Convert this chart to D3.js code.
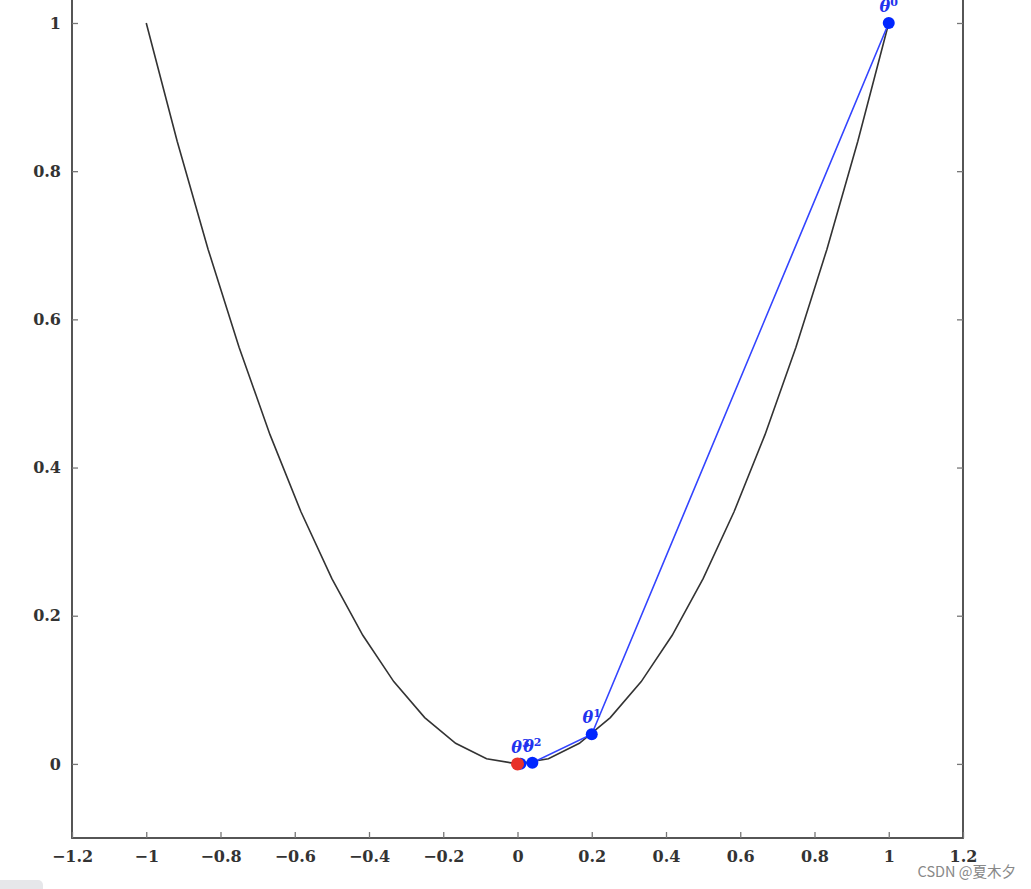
<!DOCTYPE html>
<html><head><meta charset="utf-8">
<script src="https://cdn.jsdelivr.net/npm/d3@7"></script>
<style>body{margin:0;background:#fff}svg{display:block}</style>
</head><body>
<script>
// data
const curveX = [-1,-0.9167,-0.8333,-0.75,-0.6667,-0.5833,-0.5,-0.4167,-0.3333,-0.25,-0.1667,-0.0833,0,0.0833,0.1667,0.25,0.3333,0.4167,0.5,0.5833,0.6667,0.75,0.8333,0.9167,1];
const curveY = [1,0.8403,0.6944,0.5625,0.4444,0.3403,0.25,0.1736,0.1111,0.0625,0.0278,0.0069,0,0.0069,0.0278,0.0625,0.1111,0.1736,0.25,0.3403,0.4444,0.5625,0.6944,0.8403,1];
const iterX = [1,0.2,0.04,0.008];
const iterY = [1,0.04,0.0016,0.000064];
const iterLabels = ["0","1","2","3"];
const optX = [0], optY = [0];
const xTicks = [-1.2,-1,-0.8,-0.6,-0.4,-0.2,0,0.2,0.4,0.6,0.8,1,1.2];
const yTicks = [0,0.2,0.4,0.6,0.8,1];

const W=1031,H=889;
const svg=d3.select("body").append("svg").attr("width",W).attr("height",H);
const x=d3.scaleLinear().domain([-1.2,1.2]).range([72,963]);
const y=d3.scaleLinear().domain([-0.1,1.1]).range([838,764-1.1*741]);
const fmt=v=>(v<0?"\u2212":"")+String(Math.abs(+v.toFixed(1)));
const tickFont="'DejaVu Serif', serif";

// frame
svg.append("rect").attr("x",72).attr("y",y(1.1)).attr("width",963-72).attr("height",838-y(1.1))
  .attr("fill","none").attr("stroke","#444").attr("stroke-width",1.8);

// axes
const gx=svg.append("g").attr("transform","translate(0,838)")
  .call(d3.axisBottom(x).tickValues(xTicks).tickSize(-6).tickPadding(13).tickFormat(fmt));
const gy=svg.append("g").attr("transform","translate(72,0)")
  .call(d3.axisLeft(y).tickValues(yTicks).tickSize(-6).tickPadding(11).tickFormat(fmt));
const gy2=svg.append("g").attr("transform","translate(963,0)")
  .call(d3.axisRight(y).tickValues(yTicks).tickSize(-6).tickFormat(""));
[gx,gy,gy2].forEach(g=>{
  g.select(".domain").remove();
  g.selectAll(".tick line").attr("stroke","#777").attr("stroke-width",1.3);
  g.selectAll("text").attr("font-family",tickFont).attr("font-weight","bold").attr("font-size",16).attr("fill","#333");
});

// curve
svg.append("path").datum(curveX.map((v,i)=>[v,curveY[i]]))
  .attr("d",d3.line().x(d=>x(d[0])).y(d=>y(d[1])))
  .attr("fill","none").attr("stroke","#333").attr("stroke-width",1.6);

// iterate path
const pts=iterX.map((v,i)=>[v,iterY[i]]);
svg.append("path").datum(pts)
  .attr("d",d3.line().x(d=>x(d[0])).y(d=>y(d[1])))
  .attr("fill","none").attr("stroke","#3344ff").attr("stroke-width",1.6);
svg.selectAll("circle.it").data(pts).join("circle").attr("class","it")
  .attr("cx",d=>x(d[0])).attr("cy",d=>y(d[1])).attr("r",6).attr("fill","#0026ff");
const lab=svg.selectAll("text.lab").data(pts).join("text").attr("class","lab")
  .attr("x",d=>x(d[0])).attr("y",d=>y(d[1])-11).attr("text-anchor","middle")
  .attr("font-family",tickFont).attr("font-weight","bold").attr("font-size",16).attr("fill","#2233ee");
lab.append("tspan").attr("font-style","italic").text("\u03b8");
lab.append("tspan").attr("font-size",11).attr("dy",-6).text((d,i)=>iterLabels[i]);

// optimum
svg.selectAll("circle.opt").data(optX.map((v,i)=>[v,optY[i]])).join("circle").attr("class","opt")
  .attr("cx",d=>x(d[0])).attr("cy",d=>y(d[1])).attr("r",6.5).attr("fill","#e8322a");

// decorations
svg.append("rect").attr("x",-8).attr("y",880).attr("width",51).attr("height",20).attr("rx",5).attr("fill","#e6e7ea");
svg.append("text").attr("x",1016).attr("y",877).attr("text-anchor","end")
  .attr("font-family","'Noto Sans CJK SC', sans-serif").attr("font-size",14.5).attr("fill","#888").text("CSDN @夏木夕");
</script>
</body></html>
